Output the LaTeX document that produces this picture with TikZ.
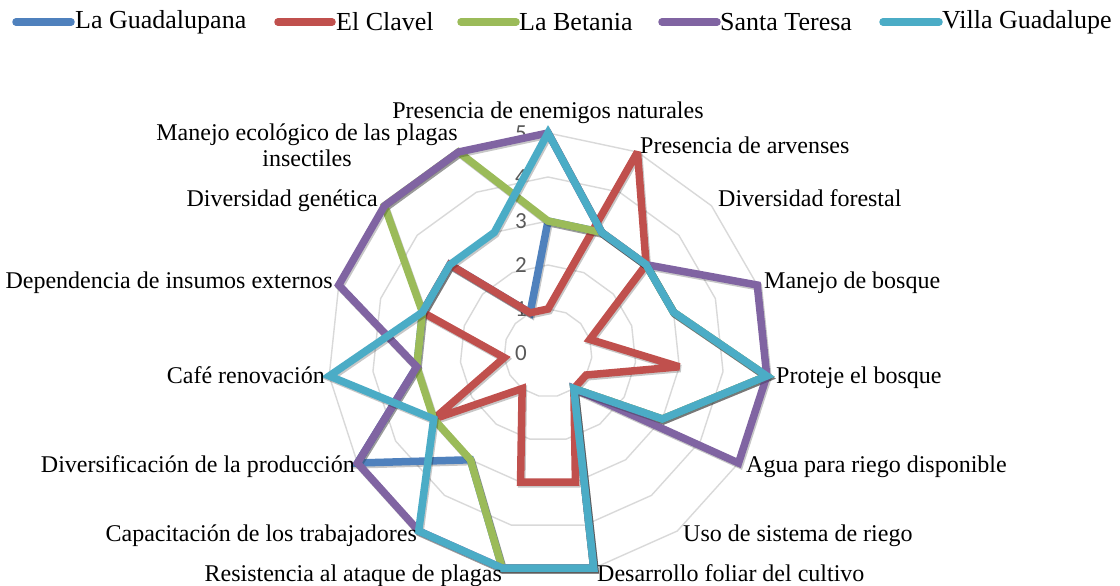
\documentclass[tikz,border=0pt]{standalone}
\usepackage{fontspec}
\setmainfont{Liberation Serif}
\newfontfamily\tickfont{Carlito}
\usetikzlibrary{calc}
\definecolor{cGua}{HTML}{4F81BD}
\definecolor{cCla}{HTML}{C0504D}
\definecolor{cBet}{HTML}{9BBB59}
\definecolor{cSan}{HTML}{8064A2}
\definecolor{cVil}{HTML}{4BACC6}
\definecolor{gridc}{HTML}{D9D9D9}
\definecolor{tickc}{HTML}{595959}
\newcommand\drawseries[3]{%
  \foreach \v [count=\k from 0] in {#3} {\coordinate (#1-\k) at ($(ctr)+({24*\k-90}:{44*\v})$);}
  \draw[shadowline] (#1-0) \foreach \k in {1,...,14}{ -- (#1-\k)} -- cycle;
  \draw[serline, #2] (#1-0) \foreach \k in {1,...,14}{ -- (#1-\k)} -- cycle;
}
\begin{document}
\begin{tikzpicture}[x=1pt,y=-1pt,
  gridline/.style={draw=gridc, line width=1.4pt, line join=round},
  serline/.style={line width=7.5pt, line join=miter, miter limit=3},
  shadowline/.style={line width=7.5pt, line join=miter, miter limit=3, black, opacity=0.22,
     transform canvas={shift={(1.2pt,-1.8pt)}}},
  legline/.style={line width=7.5pt, line cap=round},
  legtext/.style={inner sep=0pt, anchor=west, font=\fontsize{26}{30}\selectfont},
  axlab/.style={inner sep=0pt, font=\fontsize{24}{26}\selectfont},
  ticklab/.style={inner sep=0pt, anchor=east, text=tickc, font=\tickfont\fontsize{23}{25}\selectfont}]
\useasboundingbox (0,0) rectangle (1120,586);
\fill[white] (0,0) rectangle (1120,586);
\coordinate (ctr) at (548,353);
% grid rings
\foreach \r in {1,...,5} {
  \draw[gridline] ($(ctr)+(-90:{44*\r})$) \foreach \k in {1,...,14} { -- ($(ctr)+({24*\k-90}:{44*\r})$) } -- cycle;
}
% tick labels
\foreach \t in {0,...,5} {
  \node[ticklab] (tick\t) at (527,{353-44*\t}) {\t};
}
% series
\drawseries{gua}{cGua}{3,3,3,3,5,3,1,5,5,3,5,3,3,3,1}
\drawseries{cla}{cCla}{1,5,3,1,3,1,1,3,3,1,3,1,3,3,1}
\drawseries{bet}{cBet}{3,3,3,3,5,3,1,5,5,3,3,3,3,5,5}
\drawseries{san}{cSan}{5,3,3,5,5,5,1,5,5,5,5,3,5,5,5}
\drawseries{vil}{cVil}{5,3,3,3,5,3,1,5,5,5,3,5,3,3,3}
% axis labels
\node[axlab, anchor=base] (l0) at (548,118) {Presencia de enemigos naturales};
\node[axlab, anchor=base west] (l1) at (640,153) {Presencia de arvenses};
\node[axlab, anchor=base west] (l2) at (718,206) {Diversidad forestal};
\node[axlab, anchor=base west] (l3) at (764,288) {Manejo de bosque};
\node[axlab, anchor=base west] (l4) at (776,383) {Proteje el bosque};
\node[axlab, anchor=base west] (l5) at (746,472) {Agua para riego disponible};
\node[axlab, anchor=base west] (l6) at (683,541) {Uso de sistema de riego};
\node[axlab, anchor=base west] (l7) at (597,581) {Desarrollo foliar del cultivo};
\node[axlab, anchor=base east] (l8) at (502,581) {Resistencia al ataque de plagas};
\node[axlab, anchor=base east] (l9) at (417,541) {Capacitación de los trabajadores};
\node[axlab, anchor=base east] (l10) at (355,472) {Diversificación de la producción};
\node[axlab, anchor=base east] (l11) at (325,383) {Café renovación};
\node[axlab, anchor=base east] (l12) at (333,288) {Dependencia de insumos externos};
\node[axlab, anchor=base east] (l13) at (378,206) {Diversidad genética};
\node[axlab, anchor=base] (l14a) at (307,140) {Manejo ecológico de las plagas};
\node[axlab, anchor=base] (l14b) at (307,166) {insectiles};
% legend
\draw[legline, cGua] (16,22) -- (71,22);
\node[legtext] (lg1) at (75,22) {La Guadalupana};
\draw[legline, cCla] (278,22) -- (332,22);
\node[legtext] (lg2) at (336,22) {El Clavel};
\draw[legline, cBet] (461,22) -- (516,22);
\node[legtext] (lg3) at (519,22) {La Betania};
\draw[legline, cSan] (662,22) -- (717,22);
\node[legtext] (lg4) at (720,22) {Santa Teresa};
\draw[legline, cVil] (883,22) -- (939,22);
\node[legtext] (lg5) at (942,22) {Villa Guadalupe};
\end{tikzpicture}
\end{document}
